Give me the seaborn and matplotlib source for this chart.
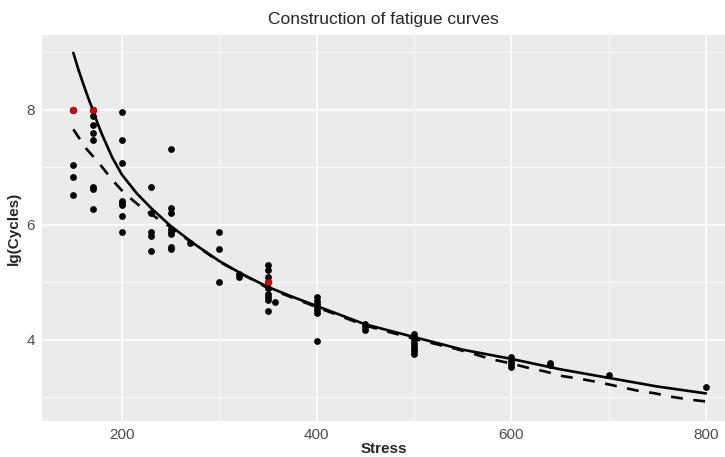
import matplotlib
matplotlib.use("Agg")
import matplotlib.pyplot as plt
import seaborn as sns
import pandas as pd
from matplotlib.ticker import MultipleLocator

# ---- data ----
pts_stress = [150, 150, 150,
              170, 170, 170, 170, 170, 170, 170,
              200, 200, 200, 200, 200, 200, 200, 200,
              230, 230, 230, 230, 230,
              250, 250, 250, 250, 250, 250, 250, 250,
              270,
              300, 300, 300,
              320, 320,
              350, 350, 350, 350, 350, 350, 350, 350,
              357,
              400, 400, 400, 400, 400, 400, 400,
              450, 450, 450,
              500, 500, 500, 500, 500, 500, 500, 500,
              600, 600, 600, 600,
              640, 640,
              700,
              800]
pts_cycles = [7.04, 6.84, 6.52,
              7.90, 7.74, 7.59, 7.47, 6.66, 6.62, 6.28,
              7.96, 7.48, 7.08, 6.42, 6.38, 6.34, 6.16, 5.88,
              6.65, 6.21, 5.88, 5.80, 5.55,
              7.32, 6.29, 6.20, 5.92, 5.87, 5.84, 5.62, 5.58,
              5.68,
              5.87, 5.58, 5.00,
              5.14, 5.10,
              5.30, 5.22, 5.09, 4.90, 4.80, 4.75, 4.70, 4.50,
              4.66,
              4.74, 4.68, 4.62, 4.57, 4.52, 4.47, 3.98,
              4.27, 4.22, 4.18,
              4.10, 4.05, 4.00, 3.95, 3.90, 3.85, 3.80, 3.76,
              3.70, 3.64, 3.58, 3.53,
              3.60, 3.56,
              3.39,
              3.18]
red_stress = [150, 170, 350]
red_cycles = [8.0, 8.0, 5.0]

solid_stress = [150, 155, 160, 165, 170, 175, 180, 190, 200, 215, 230, 250, 275, 300, 325,
                350, 375, 400, 450, 500, 550, 600, 650, 700, 750, 800]
solid_cycles = [8.99, 8.71, 8.46, 8.22, 8.00, 7.76, 7.55, 7.17, 6.87, 6.55, 6.29, 5.98, 5.66,
                5.37, 5.13, 4.92, 4.75, 4.59, 4.27, 4.05, 3.83, 3.67, 3.49, 3.34, 3.19, 3.07]

dash_stress = [150, 163, 177, 190, 203, 221, 234, 249, 275, 300, 350, 400, 450,
               500, 544, 563, 578, 600, 616, 635, 653, 672, 691, 710, 729, 748,
               765, 784, 800]
dash_cycles = [7.66, 7.33, 7.06, 6.78, 6.54, 6.29, 6.14, 5.97, 5.65, 5.36, 4.90, 4.57, 4.25,
               4.02, 3.84, 3.75, 3.67, 3.59, 3.52, 3.45, 3.37, 3.32, 3.26, 3.19, 3.12, 3.07,
               3.01, 2.96, 2.93]

x_ticks = [200, 400, 600, 800]
y_ticks = [4, 6, 8]

pts = pd.DataFrame({"Stress": pts_stress, "Cycles": pts_cycles})
red = pd.DataFrame({"Stress": red_stress, "Cycles": red_cycles})
solid = pd.DataFrame({"Stress": solid_stress, "Cycles": solid_cycles})
dash = pd.DataFrame({"Stress": dash_stress, "Cycles": dash_cycles})

sns.set_style("darkgrid", {"axes.facecolor": "#EBEBEB", "grid.color": "white"})
plt.rcParams["font.family"] = ["Liberation Sans", "DejaVu Sans"]

fig = plt.figure(figsize=(7.25, 4.57), dpi=100)
ax = fig.add_axes([42 / 725, 1 - 421 / 457, 1 - 42 / 725, (421 - 35) / 457])

sns.lineplot(data=solid, x="Stress", y="Cycles", ax=ax, color="black", lw=1.9,
             sort=False, estimator=None, zorder=3)
sns.lineplot(data=dash, x="Stress", y="Cycles", ax=ax, color="black", lw=1.9,
             sort=False, estimator=None, zorder=3, dashes=False)
ax.lines[-1].set_dashes([4.5, 4])
sns.scatterplot(data=pts, x="Stress", y="Cycles", ax=ax, color="black", s=24,
                linewidth=0, zorder=4)
sns.scatterplot(data=red, x="Stress", y="Cycles", ax=ax, color="#E00000", s=24,
                edgecolor="#300000", linewidth=0.4, zorder=5)

ax.set_xlim(117.8, 819.7)
ax.set_ylim(2.59, 9.30)
ax.set_xticks(x_ticks)
ax.set_yticks(y_ticks)
ax.xaxis.set_minor_locator(MultipleLocator(100))
ax.yaxis.set_minor_locator(MultipleLocator(1))
ax.grid(which="major", color="white", lw=1.1)
ax.grid(which="minor", color="white", lw=0.55)
for s in ax.spines.values():
    s.set_visible(False)
ax.tick_params(which="major", length=3, width=0.8, color="#333333",
               labelsize=11, labelcolor="#4D4D4D", pad=2)
ax.tick_params(which="minor", length=0)
ax.set_xlabel("Stress", fontsize=11, fontweight="bold", labelpad=0)
ax.set_ylabel("lg(Cycles)", fontsize=11, fontweight="bold", labelpad=4)
ax.set_title("Construction of fatigue curves", fontsize=12.5, pad=8)

fig.savefig("out.png", dpi=100)
